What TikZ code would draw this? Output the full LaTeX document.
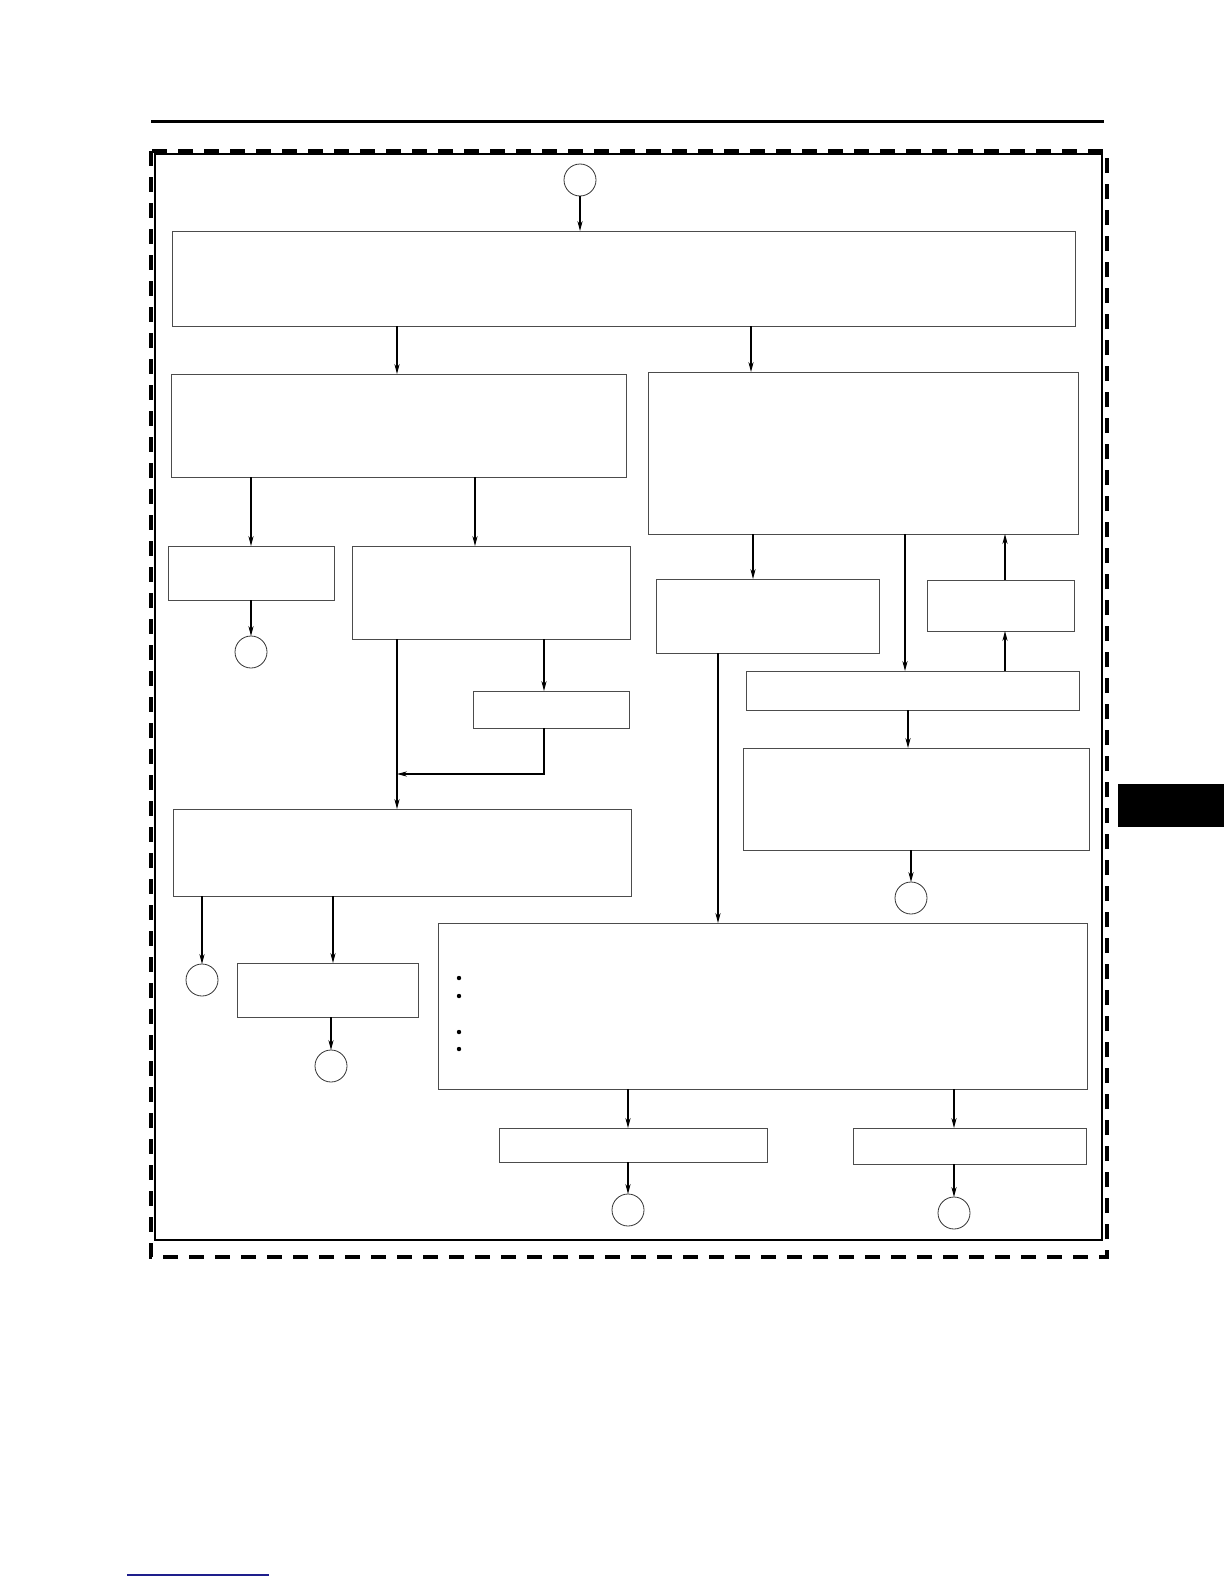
\documentclass[tikz,border=0pt]{standalone}
\usepackage{xcolor}
\usepackage{tikz}
\usetikzlibrary{arrows.meta, calc}

\definecolor{linkblue}{RGB}{30,30,140}

\tikzset{
    box/.style 2 args = {rectangle, draw=black!70, line width=0.5pt,
                         inner sep=0pt, outer sep=0pt,
                         minimum width=#1*0.5pt, minimum height=#2*0.5pt}
}

\begin{document}
\begin{tikzpicture}[
    x=0.5pt, y=-0.5pt,
    conn/.style      = {circle, draw=black!80, line width=0.4pt,
                        inner sep=0pt, outer sep=0pt, minimum size=16pt},
    dot/.style       = {circle, fill=black, inner sep=0pt, minimum size=2.2pt},
    arr/.style       = {-{Stealth[length=5pt, width=2.6pt]}, line width=0.55pt}
]

\useasboundingbox (0,0) rectangle (1224,1584);

%% Page furniture
\draw[line width=1.5pt] (151,122) -- (1104,122);
\draw[line width=1.8pt, dash pattern=on 7.5pt off 5.5pt] (151,151) rectangle (1107,1257);
\draw[line width=0.8pt] (155,154) rectangle (1102,1240);
\fill (1118,784) rectangle (1224,827);
\draw[linkblue, line width=0.6pt] (127,1575) -- (269,1575);

%% Start connector and top box
\node[conn]                    (c0)    at (580,180)     {};
\node[box={903}{95}]           (box1)  at (623.5,278.5) {};

%% Left branch
\node[box={455}{103}]          (box2)  at (398.5,425.5) {};
\node[box={166}{54}]           (box4)  at (251,573)     {};
\node[box={278}{93}]           (box5)  at (491,592.5)   {};
\node[box={156}{37}]           (box6)  at (551,709.5)   {};
\node[box={458}{87}]           (box7)  at (402,852.5)   {};
\node[box={181}{54}]           (box8)  at (327.5,990)   {};

%% Right branch
\node[box={430}{162}]          (box3)  at (863,453)     {};
\node[box={223}{74}]           (box10) at (767.5,616)   {};
\node[box={147}{51}]           (box12) at (1000.5,605.5){};
\node[box={333}{39}]           (box11) at (912.5,690.5) {};
\node[box={346}{102}]          (box13) at (916,799)     {};

%% Bottom box with bullets and its outcomes
\node[box={649}{166}]          (box9)  at (762.5,1006)  {};
\node[box={268}{34}]           (box14) at (633,1145)    {};
\node[box={233}{36}]           (box15) at (969.5,1146)  {};

\foreach \y [count=\i] in {978,996,1032,1049}
    \node[dot] (b\i) at (459,\y) {};

%% Off-page connectors
\node[conn]                    (c1)    at (251,652)     {};
\node[conn]                    (c2)    at (202,980)     {};
\node[conn]                    (c3)    at (331,1066)    {};
\node[conn]                    (c4)    at (911,898)     {};
\node[conn]                    (c5)    at (628,1210)    {};
\node[conn]                    (c6)    at (954,1213)    {};

%% x positions of the vertical runs
\coordinate (xa) at (397,0);
\coordinate (xb) at (751,0);
\coordinate (xc) at (475,0);
\coordinate (xd) at (544,0);
\coordinate (xe) at (333,0);
\coordinate (xf) at (753,0);
\coordinate (xg) at (905,0);
\coordinate (xh) at (1005,0);
\coordinate (xi) at (908,0);
\coordinate (xj) at (718,0);
\coordinate (join) at (397,774);

%% Arrows
\draw[arr] (c0.south) -- (box1.north -| c0);
\draw[arr] (box1.south -| xa) -- (box2.north -| xa);
\draw[arr] (box1.south -| xb) -- (box3.north -| xb);

\draw[arr] (box2.south -| box4) -- (box4.north);
\draw[arr] (box4.south -| c1) -- (c1.north);
\draw[arr] (box2.south -| xc) -- (box5.north -| xc);
\draw[arr] (box5.south -| xa) -- (box7.north -| xa);
\draw[arr] (box5.south -| xd) -- (box6.north -| xd);
\draw[arr] (box6.south -| xd) |- (join);

\draw[arr] (box7.south -| c2) -- (c2.north);
\draw[arr] (box7.south -| xe) -- (box8.north -| xe);
\draw[arr] (box8.south -| c3) -- (c3.north);

\draw[arr] (box3.south -| xf) -- (box10.north -| xf);
\draw[arr] (box3.south -| xg) -- (box11.north -| xg);
\draw[arr] (box11.north -| xh) -- (box12.south -| xh);
\draw[arr] (box12.north -| xh) -- (box3.south -| xh);
\draw[arr] (box11.south -| xi) -- (box13.north -| xi);
\draw[arr] (box13.south -| c4) -- (c4.north);

\draw[arr] (box10.south -| xj) -- (box9.north -| xj);
\draw[arr] (box9.south -| c5) -- (box14.north -| c5);
\draw[arr] (box14.south -| c5) -- (c5.north);
\draw[arr] (box9.south -| c6) -- (box15.north -| c6);
\draw[arr] (box15.south -| c6) -- (c6.north);

\end{tikzpicture}
\end{document}
